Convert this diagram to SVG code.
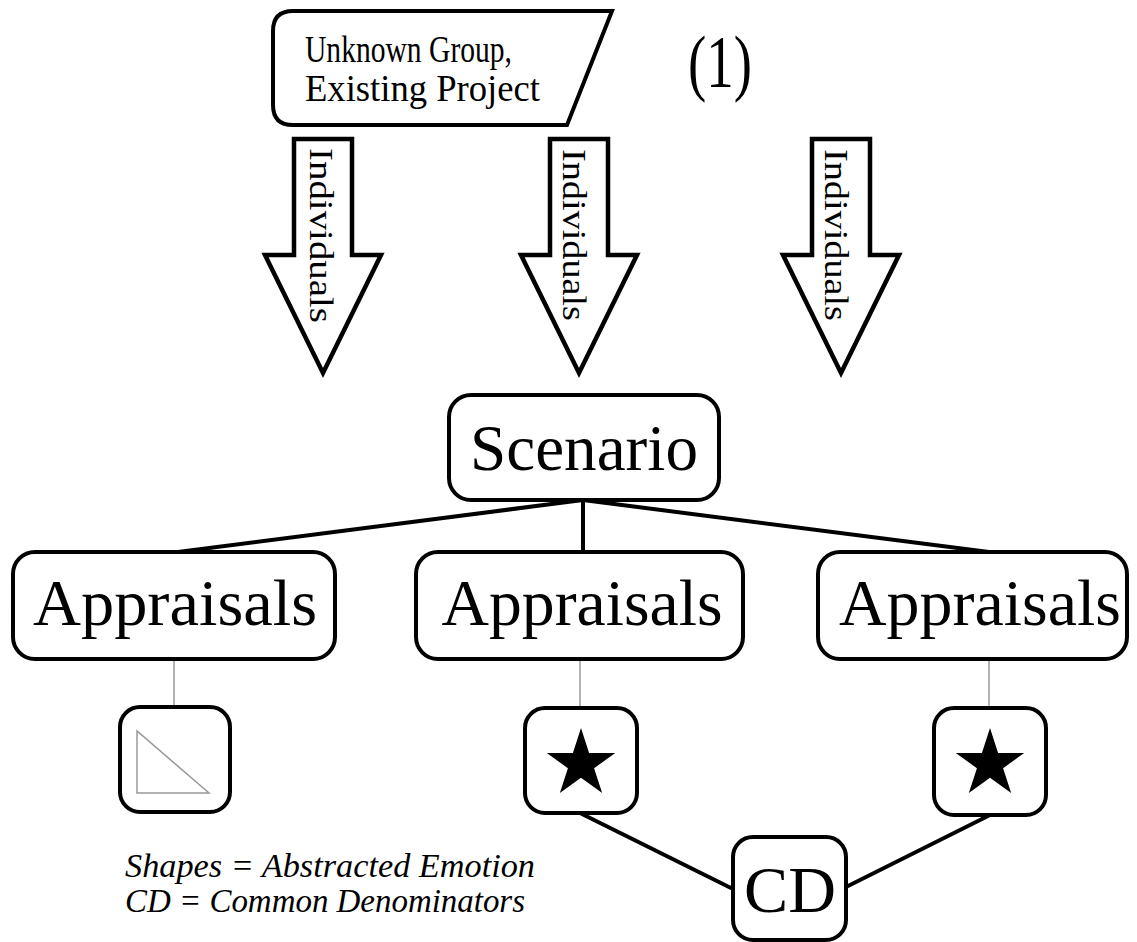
<svg xmlns="http://www.w3.org/2000/svg" width="1137" height="942" viewBox="0 0 1137 942">
<style>
.box{fill:#fff;stroke:#000;stroke-width:4}
.arrow{fill:#fff;stroke:#000;stroke-width:4.5;stroke-linejoin:miter}
text{font-family:'Liberation Serif','Times New Roman',serif;fill:#000}
.big{font-size:66px}
.ind{font-size:34px}
.leg{font-size:34px;font-style:italic}
.conn{stroke:#000;stroke-width:4;fill:none}
.thin{stroke:#999;stroke-width:1.5;fill:none}
</style>
<defs>
<path id="star" d="M0,-36 L8.08,-11.12 L34.24,-11.12 L13.08,4.25 L21.16,29.12 L0,13.75 L-21.16,29.12 L-13.08,4.25 L-34.24,-11.12 L-8.08,-11.12 Z" fill="#000"/>
</defs>
<rect width="1137" height="942" fill="#fff"/>

<g id="connectors">
<line class="conn" x1="583" y1="500" x2="178" y2="552"/>
<line class="conn" x1="583" y1="500" x2="583" y2="552"/>
<line class="conn" x1="583" y1="500" x2="989" y2="552"/>
<line class="thin" x1="174" y1="659" x2="174" y2="707"/>
<line class="thin" x1="580" y1="659" x2="580" y2="708"/>
<line class="thin" x1="989" y1="659" x2="989" y2="707"/>
<line class="conn" x1="580" y1="813" x2="733" y2="889"/>
<line class="conn" x1="990" y1="815" x2="846" y2="887"/>
</g>

<g id="source">
<path class="box" d="M293 11 L612 11 L567 125 L293 125 Q273 125 273 105 L273 31 Q273 11 293 11 Z"/>
<text x="305" y="62" font-size="37" textLength="207" lengthAdjust="spacingAndGlyphs">Unknown Group,</text>
<text x="305" y="101" font-size="37" textLength="235" lengthAdjust="spacingAndGlyphs">Existing Project</text>
</g>

<g id="label1">
<text x="688" y="87" font-size="74" textLength="64" lengthAdjust="spacingAndGlyphs">(1)</text>
</g>

<g id="arrow1">
<path class="arrow" d="M294 139 L352 139 L352 255 L381 255 L323 373 L265 255 L294 255 Z"/>
<text class="ind" transform="translate(310,148) rotate(90)" textLength="175" lengthAdjust="spacingAndGlyphs">Individuals</text>
</g>
<g id="arrow2">
<path class="arrow" d="M550 139 L608 139 L608 255 L637 255 L579 373 L521 255 L550 255 Z"/>
<text class="ind" transform="translate(563,149) rotate(90)" textLength="172" lengthAdjust="spacingAndGlyphs">Individuals</text>
</g>
<g id="arrow3">
<path class="arrow" d="M812 139 L870 139 L870 255 L899 255 L841 373 L783 255 L812 255 Z"/>
<text class="ind" transform="translate(825,149) rotate(90)" textLength="172" lengthAdjust="spacingAndGlyphs">Individuals</text>
</g>

<g id="scenario">
<rect class="box" x="449" y="395" width="270" height="105" rx="22"/>
<text class="big" x="584" y="470" text-anchor="middle" textLength="228" lengthAdjust="spacingAndGlyphs">Scenario</text>
</g>

<g id="appraisals1">
<rect class="box" x="13" y="552" width="322" height="107" rx="22"/>
<text class="big" x="175" y="625" text-anchor="middle" textLength="284" lengthAdjust="spacingAndGlyphs">Appraisals</text>
</g>
<g id="appraisals2">
<rect class="box" x="416" y="552" width="327" height="107" rx="22"/>
<text class="big" x="582" y="625" text-anchor="middle" textLength="281" lengthAdjust="spacingAndGlyphs">Appraisals</text>
</g>
<g id="appraisals3">
<rect class="box" x="818" y="552" width="309" height="107" rx="22"/>
<text class="big" x="980" y="625" text-anchor="middle" textLength="282" lengthAdjust="spacingAndGlyphs">Appraisals</text>
</g>

<g id="shape1">
<rect class="box" x="120" y="707" width="110" height="105" rx="20"/>
<path d="M137 731 L137 793 L209 793 Z" fill="none" stroke="#999" stroke-width="1.5"/>
</g>
<g id="shape2">
<rect class="box" x="525" y="708" width="112" height="105" rx="20"/>
<use href="#star" x="581" y="764"/>
</g>
<g id="shape3">
<rect class="box" x="934" y="708" width="112" height="107" rx="20"/>
<use href="#star" x="990" y="764"/>
</g>

<g id="cd">
<rect class="box" x="733" y="837" width="113" height="103" rx="20"/>
<text class="big" x="790" y="912" text-anchor="middle" textLength="92" lengthAdjust="spacingAndGlyphs">CD</text>
</g>

<g id="legend">
<text class="leg" x="125" y="877" textLength="410" lengthAdjust="spacingAndGlyphs">Shapes = Abstracted Emotion</text>
<text class="leg" x="125" y="912" textLength="400" lengthAdjust="spacingAndGlyphs">CD = Common Denominators</text>
</g>
</svg>
